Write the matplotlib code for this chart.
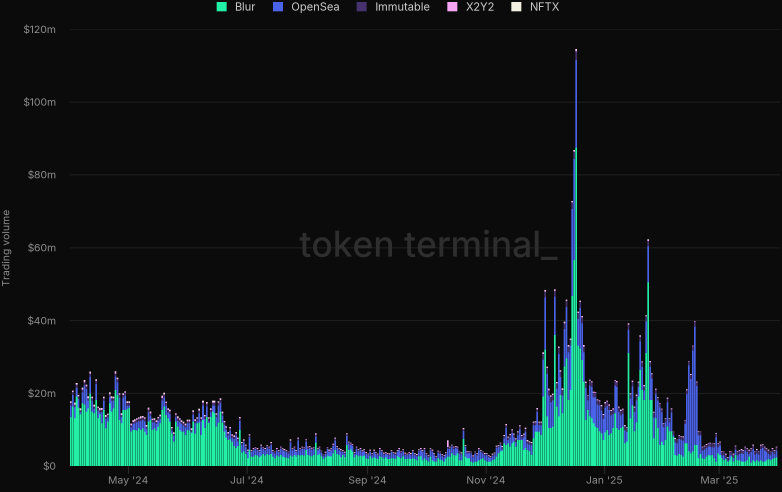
# NFT marketplace daily trading volume, stacked by marketplace (token terminal style).
# Rendered at 3x and box-averaged down so the ~1.5px daily bars blend evenly.
import numpy as np
import pandas as pd
import matplotlib
matplotlib.use("Agg")
import matplotlib.pyplot as plt
import matplotlib.dates as mdates
from matplotlib.patches import Patch
from matplotlib.ticker import FuncFormatter

plt.rcParams.update({"font.family": ["Inter", "DejaVu Sans"]})

# daily values in $m, 2024-04-01 .. 2025-03-30, one row per month
dates = pd.date_range("2024-04-01", periods=364, freq="D")

blur = [
    13.4, 16.3, 13.1, 19.0, 16.0, 14.2, 17.2, 16.8, 14.9, 15.8, 19.9, 14.9, 14.5, 18.1, 13.1, 14.2, 11.7, 15.4, 10.3, 12.2, 17.2, 14.9, 15.8, 20.9, 19.5, 12.6, 11.7, 15.4, 15.4, 15.6,
    16.0, 9.4, 9.9, 9.9, 9.7, 10.3, 9.9, 10.3, 9.4, 8.5, 12.2, 12.6, 9.9, 10.3, 9.7, 10.8, 11.7, 15.4, 16.3, 14.0, 13.1, 12.2, 9.0, 6.7, 12.2, 10.8, 9.9, 9.4, 9.4, 8.5, 9.9,
    9.7, 9.1, 12.2, 8.9, 11.7, 11.9, 8.5, 12.6, 10.4, 13.5, 11.8, 13.5, 14.9, 14.5, 10.8, 11.9, 14.9, 11.9, 9.4, 7.8, 7.1, 7.3, 6.7, 5.5, 4.9, 5.5, 9.9, 3.7, 4.0, 3.3,
    2.1, 4.4, 2.6, 2.6, 3.0, 2.8, 2.4, 2.8, 3.3, 2.8, 3.3, 3.0, 3.3, 2.6, 2.1, 2.8, 2.6, 3.0, 2.6, 2.4, 2.3, 2.1, 2.8, 2.6, 3.0, 2.6, 3.0, 2.8, 3.0, 2.8, 4.4,
    3.0, 2.8, 2.7, 3.0, 6.4, 3.0, 3.3, 2.7, 1.9, 2.4, 2.8, 2.7, 2.7, 3.5, 4.4, 3.3, 3.0, 2.4, 3.0, 2.4, 5.8, 4.4, 4.6, 3.9, 2.4, 3.0, 2.7, 2.8, 2.7, 2.8, 2.1,
    1.9, 2.7, 2.1, 2.4, 2.1, 1.9, 2.7, 2.4, 2.0, 2.4, 1.9, 1.9, 2.1, 2.1, 1.9, 2.7, 2.4, 2.1, 2.7, 1.9, 1.9, 2.0, 1.9, 2.1, 1.9, 1.6, 2.7, 2.7, 1.6, 2.1,
    1.6, 1.2, 2.6, 1.6, 1.2, 1.2, 2.1, 1.8, 1.6, 1.2, 2.0, 2.6, 2.6, 3.5, 3.0, 2.8, 3.5, 1.6, 1.6, 7.4, 2.6, 2.1, 2.1, 1.2, 0.9, 1.2, 1.2, 1.6, 1.9, 2.1, 1.6,
    1.2, 1.2, 1.2, 1.6, 1.8, 2.6, 3.5, 4.0, 4.2, 6.2, 5.8, 6.2, 5.3, 6.2, 6.7, 5.3, 7.1, 7.1, 7.1, 4.4, 4.9, 4.4, 4.0, 3.0, 7.6, 9.4, 9.4, 9.4, 8.5, 19.0,
    31.9, 13.6, 10.4, 10.4, 10.8, 36.0, 16.3, 13.6, 19.5, 14.5, 27.3, 29.6, 18.1, 20.9, 46.7, 56.6, 87.4, 33.0, 32.3, 29.1, 23.2, 12.6, 15.4, 13.6, 13.1, 11.7, 10.8, 10.4, 9.5, 9.0, 7.1,
    9.2, 9.9, 8.5, 9.0, 10.4, 14.5, 10.4, 9.9, 10.4, 10.8, 6.2, 6.7, 31.0, 13.1, 16.7, 9.5, 12.0, 19.0, 26.4, 20.9, 18.1, 31.0, 50.4, 18.1, 18.1, 7.6, 13.1, 10.4, 5.8, 6.7, 5.8,
    7.1, 10.8, 9.5, 9.5, 8.0, 3.0, 2.8, 3.3, 3.0, 2.6, 6.2, 6.2, 4.0, 3.5, 4.0, 5.8, 5.8, 2.1, 3.3, 2.1, 1.9, 2.6, 3.0, 2.8, 3.0, 2.1, 1.2, 3.5,
    3.0, 2.1, 1.6, 1.9, 1.2, 1.6, 2.6, 1.2, 3.0, 1.6, 1.6, 1.2, 1.2, 1.2, 1.6, 2.6, 0.9, 1.6, 1.2, 1.6, 1.2, 1.6, 1.2, 1.2, 1.6, 1.9, 1.6, 1.9, 2.2, 2.4,
]

opensea = [
    3.2, 3.2, 3.0, 2.4, 2.4, 0.5, 3.0, 5.3, 6.2, 2.1, 4.6, 3.0, 1.2, 4.4, 2.1, 0.5, 3.0, 2.5, 2.6, 1.2, 1.7, 3.0, 2.1, 3.6, 3.5, 6.2, 1.7, 3.4, 3.9, 1.0,
    0.6, 1.2, 1.6, 1.8, 2.3, 2.0, 2.5, 2.3, 2.9, 1.7, 2.5, 1.2, 2.1, 1.7, 1.8, 1.6, 1.2, 2.5, 2.5, 2.6, 1.6, 2.1, 0.7, 1.6, 1.2, 1.6, 2.1, 2.1, 1.7, 2.1, 1.8,
    2.0, 0.2, 1.9, 2.8, 0.6, 2.6, 3.8, 4.0, 2.5, 2.8, 0.5, 1.2, 1.7, 2.1, 2.6, 4.7, 2.4, 1.9, 1.9, 2.1, 1.2, 2.4, 1.0, 1.9, 3.4, 1.3, 2.5, 2.1, 2.5, 1.8,
    1.7, 3.5, 1.2, 1.7, 1.7, 1.5, 1.4, 2.3, 1.4, 1.5, 1.8, 1.7, 2.5, 1.2, 1.3, 1.5, 1.2, 1.7, 1.7, 1.6, 1.5, 1.3, 3.7, 1.7, 1.7, 1.2, 4.0, 1.5, 1.7, 1.9, 2.3,
    1.7, 2.1, 1.7, 1.7, 1.7, 1.3, 1.4, 1.0, 0.8, 0.9, 1.9, 1.1, 1.6, 2.0, 2.6, 1.6, 1.3, 1.6, 0.8, 0.9, 2.4, 1.7, 1.2, 1.6, 0.9, 1.7, 1.3, 1.5, 1.1, 1.2, 1.2,
    1.0, 1.1, 0.8, 1.4, 1.2, 1.0, 1.6, 1.4, 1.0, 0.9, 1.1, 1.0, 1.7, 1.2, 1.1, 1.1, 1.9, 1.5, 1.3, 1.1, 1.0, 1.3, 1.0, 1.7, 1.1, 1.1, 1.3, 1.6, 2.2, 2.2,
    1.3, 1.2, 1.7, 2.2, 1.7, 1.0, 1.5, 1.6, 1.1, 1.2, 1.2, 2.2, 2.1, 1.8, 1.7, 2.1, 1.2, 1.8, 1.5, 2.2, 2.6, 1.3, 1.5, 2.2, 1.5, 2.2, 1.7, 2.7, 1.9, 1.3, 1.3,
    1.7, 1.2, 1.0, 1.1, 1.3, 2.3, 1.7, 1.8, 0.3, 1.3, 4.6, 0.9, 2.5, 2.9, 1.2, 1.3, 1.3, 3.0, 0.4, 3.5, 4.5, 1.7, 1.9, 2.7, 3.6, 1.8, 5.4, 1.8, 2.7, 10.2,
    14.4, 11.7, 8.9, 7.1, 7.2, 10.5, 4.9, 17.2, 4.9, 4.8, 10.3, 14.1, 13.1, 12.1, 23.9, 27.7, 24.1, 7.4, 11.1, 10.1, 8.0, 8.8, 2.6, 8.5, 8.6, 7.2, 8.1, 6.4, 7.1, 6.2, 5.8,
    6.8, 6.6, 6.9, 4.9, 3.9, 7.6, 11.3, 4.9, 3.5, 3.5, 3.6, 2.6, 6.4, 5.4, 5.2, 5.3, 6.0, 2.7, 7.8, 6.3, 2.6, 8.7, 9.9, 9.1, 5.9, 5.8, 6.7, 7.5, 10.3, 8.0, 4.8,
    4.9, 6.7, 2.5, 5.2, 0.4, 3.5, 3.4, 4.1, 4.2, 4.4, 5.3, 13.6, 23.6, 20.4, 27.7, 32.5, 16.2, 6.3, 5.1, 2.1, 2.6, 2.3, 2.3, 2.5, 2.1, 3.0, 6.7, 1.6,
    2.6, 0.8, 1.3, 0.3, 0.3, 1.3, 0.3, 1.0, 1.5, 1.3, 1.7, 2.3, 2.1, 3.0, 2.2, 0.7, 2.9, 3.1, 1.9, 1.9, 1.9, 3.1, 3.7, 3.0, 2.2, 1.4, 1.3, 1.9, 1.1, 1.8,
]

immutable = [
    0.7, 0.8, 0.7, 0.9, 0.7, 0.6, 0.8, 0.9, 0.8, 0.7, 0.9, 0.7, 0.6, 0.8, 0.7, 0.6, 0.7, 0.7, 0.6, 0.6, 0.8, 0.7, 0.7, 0.9, 0.8, 0.8, 0.6, 0.7, 0.8, 0.7,
    0.7, 0.6, 0.6, 0.6, 0.7, 0.7, 0.7, 0.7, 0.7, 0.6, 0.8, 0.7, 0.6, 0.6, 0.6, 0.7, 0.7, 0.8, 0.8, 0.7, 0.7, 0.7, 0.6, 0.5, 0.7, 0.7, 0.7, 0.6, 0.6, 0.6, 0.6,
    0.6, 0.6, 0.7, 0.7, 0.7, 0.7, 0.7, 0.8, 0.7, 0.8, 0.7, 0.7, 0.8, 0.8, 0.7, 0.8, 0.8, 0.7, 0.7, 0.6, 0.6, 0.6, 0.6, 0.6, 0.6, 0.6, 0.7, 0.5, 0.5, 0.5,
    0.4, 0.5, 0.4, 0.4, 0.4, 0.4, 0.4, 0.5, 0.4, 0.4, 0.4, 0.4, 0.5, 0.4, 0.4, 0.4, 0.4, 0.4, 0.4, 0.4, 0.4, 0.4, 0.5, 0.4, 0.4, 0.4, 0.5, 0.4, 0.4, 0.4, 0.4,
    0.4, 0.4, 0.4, 0.4, 0.5, 0.4, 0.4, 0.4, 0.3, 0.4, 0.4, 0.4, 0.4, 0.4, 0.5, 0.4, 0.4, 0.4, 0.4, 0.4, 0.5, 0.4, 0.4, 0.4, 0.4, 0.4, 0.4, 0.4, 0.4, 0.4, 0.3,
    0.3, 0.4, 0.4, 0.4, 0.4, 0.3, 0.4, 0.4, 0.4, 0.4, 0.4, 0.3, 0.4, 0.4, 0.4, 0.4, 0.4, 0.4, 0.4, 0.4, 0.3, 0.4, 0.4, 0.4, 0.4, 0.3, 0.4, 0.4, 0.4, 0.4,
    0.4, 0.4, 0.4, 0.4, 0.4, 0.3, 0.4, 0.4, 0.4, 0.4, 0.4, 0.4, 0.4, 0.4, 0.4, 0.4, 0.4, 0.4, 0.4, 0.5, 0.4, 0.4, 0.4, 0.4, 0.3, 0.4, 0.4, 0.4, 0.4, 0.4, 0.4,
    0.4, 0.4, 0.4, 0.4, 0.4, 0.4, 0.4, 0.4, 0.7, 0.7, 0.8, 0.7, 0.7, 0.7, 0.7, 0.7, 0.8, 0.8, 0.7, 0.7, 0.8, 0.7, 0.6, 0.6, 0.7, 0.8, 0.8, 0.7, 0.7, 1.6,
    1.6, 1.6, 1.5, 1.5, 1.5, 1.6, 1.5, 1.6, 1.5, 1.6, 1.6, 1.6, 1.6, 1.6, 1.8, 2.0, 2.4, 1.6, 1.6, 1.6, 1.6, 1.4, 1.2, 1.3, 1.3, 1.2, 1.2, 1.2, 1.2, 1.2, 1.1,
    1.2, 1.2, 1.2, 1.2, 1.2, 1.3, 1.3, 1.2, 1.2, 1.2, 1.1, 1.1, 1.4, 1.2, 1.2, 1.2, 1.2, 1.2, 1.3, 1.3, 1.2, 1.4, 1.5, 1.3, 1.2, 1.2, 1.2, 0.9, 0.9, 0.9, 0.9,
    0.9, 1.0, 0.9, 0.9, 0.9, 0.9, 0.9, 0.9, 0.9, 0.9, 1.0, 1.0, 1.1, 1.1, 1.2, 1.2, 1.0, 0.9, 0.9, 0.9, 0.9, 0.9, 0.9, 0.9, 0.9, 0.9, 1.0, 0.9,
    0.9, 0.9, 0.9, 0.9, 0.8, 0.9, 0.9, 0.9, 0.9, 0.9, 0.9, 0.9, 0.9, 0.9, 1.0, 0.9, 0.9, 0.9, 0.9, 0.9, 0.9, 0.9, 0.9, 0.9, 0.9, 0.9, 0.9, 0.9, 0.9, 0.9,
]

x2y2 = [
    0.3, 0.3, 0.4, 0.3, 0.3, 0.3, 0.3, 0.4, 0.3, 0.3, 0.3, 0.3, 0.3, 0.3, 0.3, 0.4, 0.3, 0.3, 0.3, 0.3, 0.3, 0.3, 0.3, 0.4, 0.3, 0.3, 0.3, 0.3, 0.3, 0.3,
    0.3, 0.3, 0.3, 0.3, 0.3, 0.3, 0.3, 0.3, 0.3, 0.3, 0.3, 0.3, 0.3, 0.3, 0.3, 0.3, 0.3, 0.4, 0.3, 0.3, 0.3, 0.3, 0.3, 0.3, 0.3, 0.3, 0.3, 0.3, 0.3, 0.3, 0.3,
    0.3, 0.3, 0.3, 0.3, 0.3, 0.3, 0.3, 0.3, 0.3, 0.3, 0.3, 0.3, 0.3, 0.3, 0.3, 0.3, 0.3, 0.3, 0.3, 0.3, 0.3, 0.3, 0.3, 0.3, 0.3, 0.3, 0.3, 0.2, 0.2, 0.2,
    0.2, 0.2, 0.1, 0.2, 0.1, 0.2, 0.1, 0.2, 0.1, 0.2, 0.1, 0.2, 0.2, 0.1, 0.1, 0.2, 0.1, 0.2, 0.1, 0.2, 0.1, 0.1, 0.2, 0.1, 0.2, 0.1, 0.2, 0.1, 0.2, 0.1, 0.2,
    0.2, 0.1, 0.2, 0.1, 0.3, 0.1, 0.2, 0.1, 0.1, 0.2, 0.1, 0.2, 0.1, 0.2, 0.2, 0.1, 0.1, 0.2, 0.1, 0.2, 0.2, 0.1, 0.2, 0.1, 0.1, 0.2, 0.1, 0.2, 0.1, 0.1, 0.2,
    0.1, 0.2, 0.1, 0.2, 0.1, 0.1, 0.2, 0.1, 0.2, 0.1, 0.1, 0.2, 0.1, 0.1, 0.2, 0.1, 0.2, 0.1, 0.1, 0.2, 0.1, 0.1, 0.2, 0.1, 0.1, 0.2, 0.1, 0.2, 0.1, 0.2,
    0.1, 0.2, 0.1, 0.2, 0.1, 0.1, 0.2, 0.1, 0.1, 0.2, 0.1, 1.8, 0.2, 0.1, 0.2, 0.1, 0.2, 0.1, 0.2, 0.2, 0.1, 0.2, 0.1, 0.1, 0.2, 0.1, 0.1, 0.2, 0.1, 0.1, 0.2,
    0.1, 0.2, 0.1, 0.2, 0.1, 0.2, 0.1, 0.2, 0.2, 0.2, 0.2, 0.2, 0.2, 0.2, 0.2, 0.2, 0.2, 0.2, 0.2, 0.2, 0.2, 0.2, 0.2, 0.2, 0.2, 0.2, 0.2, 0.2, 0.2, 0.3,
    0.3, 0.3, 0.3, 0.3, 0.3, 0.3, 0.3, 0.3, 0.3, 0.3, 0.3, 0.3, 0.3, 0.3, 0.3, 0.3, 0.4, 0.3, 0.3, 0.3, 0.3, 0.3, 0.2, 0.3, 0.2, 0.3, 0.2, 0.3, 0.2, 0.3, 0.2,
    0.3, 0.2, 0.3, 0.2, 0.3, 0.2, 0.3, 0.2, 0.3, 0.2, 0.3, 0.2, 0.3, 0.2, 0.3, 0.2, 0.3, 0.2, 0.3, 0.2, 0.3, 0.2, 0.3, 0.3, 0.2, 0.3, 0.2, 0.1, 0.2, 0.1, 0.2,
    0.1, 0.2, 0.1, 0.2, 0.1, 0.2, 0.1, 0.2, 0.1, 0.2, 0.1, 0.2, 0.1, 0.2, 0.1, 0.2, 0.1, 0.2, 0.1, 0.2, 0.1, 0.2, 0.1, 0.2, 0.1, 0.2, 0.1, 0.2,
    0.1, 0.2, 0.1, 0.2, 0.1, 0.2, 0.1, 0.2, 0.1, 0.2, 0.1, 0.2, 0.1, 0.2, 0.1, 0.2, 0.1, 0.2, 0.1, 0.2, 0.1, 0.2, 0.1, 0.2, 0.1, 0.2, 0.1, 0.2, 0.1, 0.2,
]

nftx = [
    0.2, 0.1, 0.2, 0.2, 0.1, 0.2, 0.2, 0.2, 0.1, 0.2, 0.2, 0.1, 0.2, 0.2, 0.1, 0.2, 0.2, 0.1, 0.2, 0.1, 0.2, 0.2, 0.1, 0.2, 0.2, 0.1, 0.2, 0.2, 0.1, 0.2,
    0.2, 0.1, 0.1, 0.2, 0.1, 0.1, 0.2, 0.1, 0.1, 0.2, 0.2, 0.1, 0.1, 0.2, 0.1, 0.1, 0.2, 0.2, 0.2, 0.1, 0.1, 0.2, 0.1, 0.1, 0.1, 0.2, 0.1, 0.1, 0.2, 0.1, 0.1,
    0.1, 0.1, 0.2, 0.1, 0.1, 0.2, 0.1, 0.2, 0.1, 0.2, 0.1, 0.1, 0.2, 0.2, 0.1, 0.1, 0.2, 0.1, 0.1, 0.1, 0.1, 0.1, 0.1, 0.1, 0.1, 0.1, 0.1, 0.1, 0.1, 0.1,
    0.05, 0.05, 0.05, 0.05, 0.05, 0.05, 0.05, 0.05, 0.05, 0.05, 0.05, 0.05, 0.05, 0.05, 0.05, 0.05, 0.05, 0.05, 0.05, 0.05, 0.05, 0.05, 0.1, 0.05, 0.05, 0.05, 0.05, 0.05, 0.05, 0.05, 0.05,
    0.05, 0.05, 0.05, 0.05, 0.1, 0.05, 0.05, 0.05, 0.05, 0.05, 0.05, 0.05, 0.05, 0.05, 0.05, 0.05, 0.05, 0.05, 0.05, 0.05, 0.1, 0.05, 0.05, 0.05, 0.05, 0.05, 0.05, 0.05, 0.05, 0.05, 0.05,
    0.05, 0.05, 0.05, 0.05, 0.05, 0.05, 0.05, 0.05, 0.05, 0.05, 0.05, 0.05, 0.05, 0.05, 0.05, 0.05, 0.05, 0.05, 0.05, 0.05, 0.05, 0.05, 0.05, 0.05, 0.05, 0.05, 0.05, 0.05, 0.05, 0.05,
    0.05, 0.05, 0.05, 0.05, 0.05, 0.05, 0.05, 0.05, 0.05, 0.05, 0.05, 0.05, 0.05, 0.05, 0.05, 0.05, 0.05, 0.05, 0.05, 0.1, 0.05, 0.05, 0.05, 0.05, 0.05, 0.05, 0.05, 0.05, 0.05, 0.05, 0.05,
    0.05, 0.05, 0.05, 0.05, 0.05, 0.05, 0.05, 0.05, 0.1, 0.1, 0.1, 0.1, 0.1, 0.1, 0.1, 0.1, 0.1, 0.1, 0.1, 0.1, 0.1, 0.1, 0.1, 0.1, 0.1, 0.1, 0.1, 0.1, 0.1, 0.1,
    0.1, 0.1, 0.1, 0.1, 0.1, 0.1, 0.1, 0.1, 0.1, 0.1, 0.1, 0.1, 0.1, 0.1, 0.1, 0.2, 0.2, 0.1, 0.1, 0.1, 0.1, 0.1, 0.05, 0.05, 0.05, 0.05, 0.05, 0.05, 0.05, 0.05, 0.05,
    0.05, 0.05, 0.05, 0.05, 0.05, 0.05, 0.05, 0.05, 0.05, 0.05, 0.05, 0.05, 0.05, 0.05, 0.05, 0.05, 0.05, 0.05, 0.05, 0.05, 0.05, 0.05, 0.1, 0.05, 0.05, 0.05, 0.05, 0.05, 0.05, 0.05, 0.05,
    0.05, 0.05, 0.05, 0.05, 0.05, 0.05, 0.05, 0.05, 0.05, 0.05, 0.05, 0.05, 0.05, 0.05, 0.05, 0.05, 0.05, 0.05, 0.05, 0.05, 0.05, 0.05, 0.05, 0.05, 0.05, 0.05, 0.05, 0.05,
    0.05, 0.05, 0.05, 0.05, 0.05, 0.05, 0.05, 0.05, 0.05, 0.05, 0.05, 0.05, 0.05, 0.05, 0.05, 0.05, 0.05, 0.05, 0.05, 0.05, 0.05, 0.05, 0.05, 0.05, 0.05, 0.05, 0.05, 0.05, 0.05, 0.05,
]

names = ["Blur", "OpenSea", "Immutable", "X2Y2", "NFTX"]
colors = ["#22f0a6", "#4a63e6", "#45336f", "#f7a6f2", "#f4efe2"]
y_ticks = [0, 20, 40, 60, 80, 100, 120]
x_tick_dates = ["2024-05-01", "2024-07-01", "2024-09-01", "2024-11-01", "2025-01-01", "2025-03-01"]

BG = "#0b0b0b"
GRID = "#1d1d1d"
TXT = "#8e8e8e"
SS = 3  # supersampling factor

series = [blur, opensea, immutable, x2y2, nftx]
for s in series:
    assert len(s) == len(dates), len(s)

fig = plt.figure(figsize=(7.82, 4.92), dpi=100 * SS)
fig.patch.set_facecolor(BG)
ax = fig.add_axes([70 / 782, 26 / 492, 710 / 782, 437 / 492])
ax.set_facecolor(BG)

xd = mdates.date2num(dates)
bottom = np.zeros(len(dates))
for name, vals, col in zip(names, series, colors):
    v = np.array(vals, dtype=float)
    ax.bar(xd, v, width=0.86, bottom=bottom.copy(), color=col, align="edge",
           linewidth=0, zorder=2, label=name)
    bottom += v

ax.set_xlim(xd[0], xd[0] + 365.3)
ax.set_ylim(0, 120)
ax.set_yticks(y_ticks)
ax.yaxis.set_major_formatter(FuncFormatter(lambda v, p: "$0" if v == 0 else f"${v:.0f}m"))
ax.grid(axis="y", color=GRID, lw=0.8, zorder=0)
ax.set_axisbelow(True)

ticks = mdates.date2num(pd.to_datetime(x_tick_dates))
ax.set_xticks(ticks)
ax.set_xticklabels([pd.Timestamp(t).strftime("%b '%y") for t in x_tick_dates])
ax.tick_params(axis="x", colors="#2a2a2a", length=5.5, width=0.8, pad=2,
               labelcolor=TXT, labelsize=7.5)
ax.tick_params(axis="y", length=0, pad=10, labelcolor=TXT, labelsize=7.5)
for sp in ax.spines.values():
    sp.set_visible(False)

ax.text(0.505, 0.50, "token terminal_", transform=ax.transAxes, ha="center", va="center",
        fontsize=25.5, fontweight="medium", color="#2e2e2e", zorder=1)

fig.text(0.009, 1 - 248 / 492, "Trading volume", rotation=90, ha="center", va="center",
         fontsize=7.5, color=TXT)

handles = [Patch(facecolor=c, edgecolor="none", label=n) for n, c in zip(names, colors)]
fig.legend(handles=handles, loc="center", bbox_to_anchor=(388 / 782, 1 - 7.5 / 492),
           ncol=5, frameon=False, fontsize=8, handlelength=0.9, handleheight=0.9,
           handletextpad=0.75, columnspacing=1.55, labelcolor="#cdcdcd")

# draw at 3x, then average each 3x3 block down to the 782x492 output
fig.canvas.draw()
big = np.asarray(fig.canvas.buffer_rgba())[..., :3].astype(float) / 255.0
h, w = big.shape[:2]
small = big.reshape(h // SS, SS, w // SS, SS, 3).mean(axis=(1, 3))
plt.imsave("out.png", np.clip(small, 0, 1))
